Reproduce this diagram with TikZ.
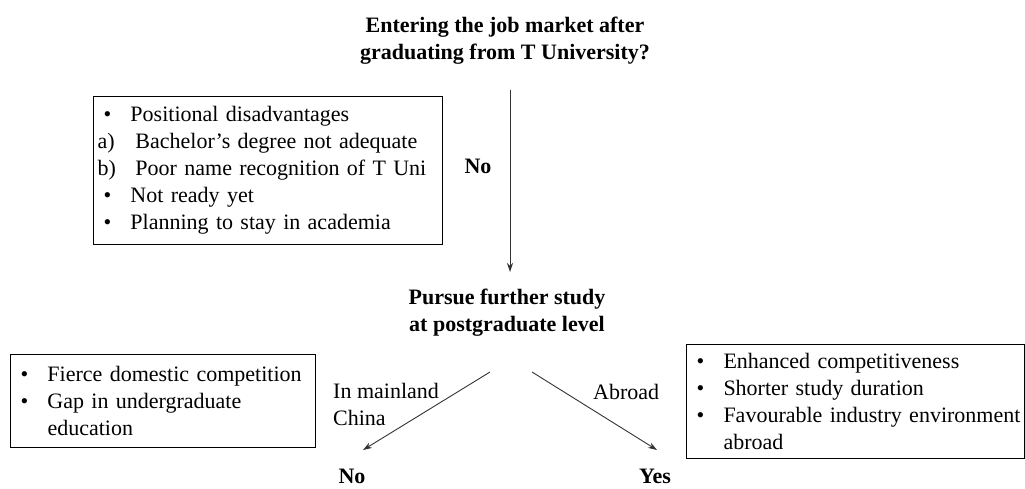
\documentclass[tikz,border=0pt]{standalone}
\usepackage{fontspec}
\setmainfont{Liberation Serif}
\usetikzlibrary{arrows.meta}
\newcommand{\bul}{\makebox[37pt][l]{\hspace{10pt}•}}
\newcommand{\lab}[1]{\makebox[42pt][l]{\hspace{4pt}#1}}
\begin{document}
\begin{tikzpicture}[x=1pt,y=-1pt,
  every node/.style={font=\fontsize{22}{27}\selectfont, inner sep=0pt},
  head/.style={font=\fontsize{22}{27}\selectfont\bfseries, align=center},
  lbl/.style={align=left, anchor=west},
  listbox/.style={draw=black, line width=1pt, align=left, anchor=north west, inner xsep=0pt, inner ysep=0pt},
  arr/.style={draw=black!80, line width=0.9pt, -{Stealth[length=9pt,width=6pt]}}]
\useasboundingbox (0,0) rectangle (1025,489);
% headings
\node[head] (t) at (505,41) {Entering the job market after\\graduating from T University?};
\node[head] (p) at (507,313) {Pursue further study\\at postgraduate level};
\node[head] (no1) at (478,166) {No};
\node[head] (no2) at (352,476) {No};
\node[head] (yes) at (655,476) {Yes};
% boxes
\node[listbox, text width=349pt, minimum height=148pt] (b1) at (93,96)
  {\bul Positional disadvantages\\\lab{a)}Bachelor’s degree not adequate\\\lab{b)}Poor name recognition of T Uni\\\bul Not ready yet\\\bul Planning to stay in academia};
\node[listbox, text width=305pt, minimum height=93pt] (b2) at (10,354)
  {\bul Fierce domestic competition\\\bul Gap in undergraduate\\\hspace*{37pt}education};
\node[listbox, text width=338pt, minimum height=114pt] (b3) at (686,344)
  {\bul Enhanced competitiveness\\\bul Shorter study duration\\\bul Favourable industry environment\\\hspace*{37pt}abroad};
% connector labels
\node[lbl] (lm) at (333,404) {In mainland\\China};
\node[lbl] (la) at (593,392) {Abroad};
% connector end points
\coordinate (s1) at (510,90);
\coordinate (e1) at (510,272);
\coordinate (s2) at (490,372);
\coordinate (e2) at (363,450);
\coordinate (s3) at (532,372);
\coordinate (e3) at (657,450);
\draw[arr] (s1) -- (e1);
\draw[arr] (s2) -- (e2);
\draw[arr] (s3) -- (e3);
\end{tikzpicture}
\end{document}
